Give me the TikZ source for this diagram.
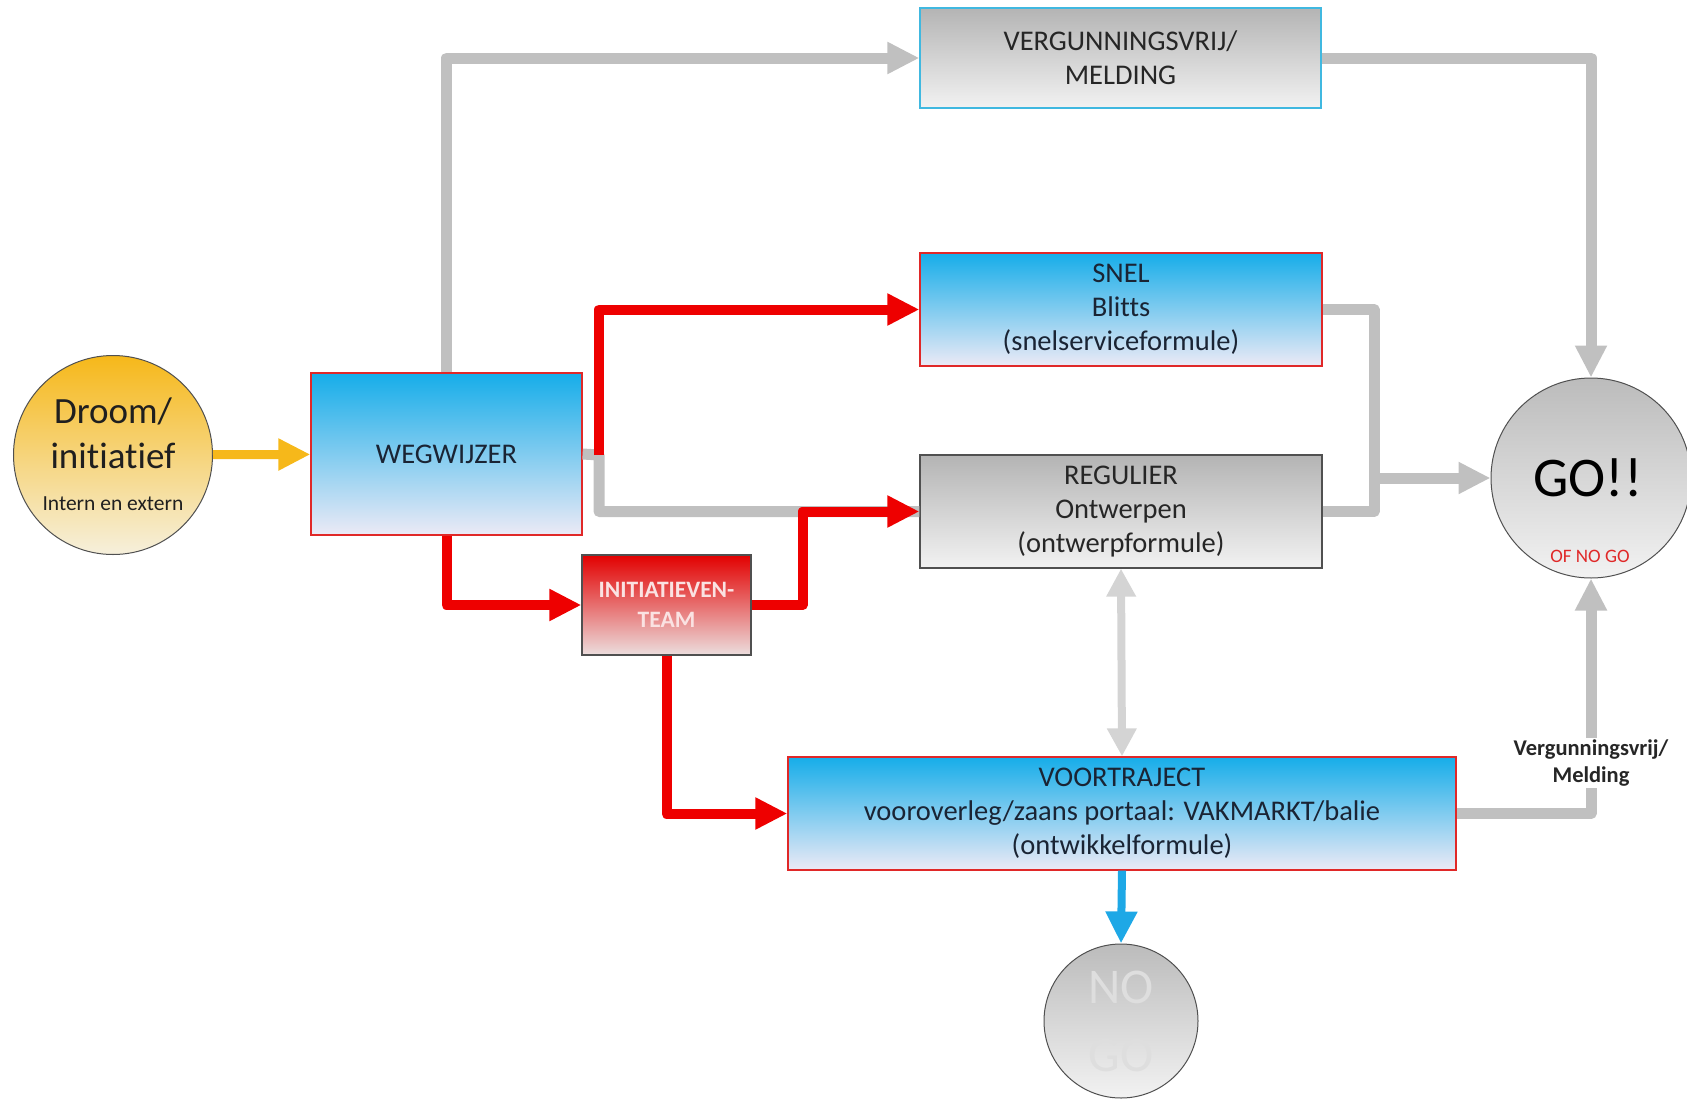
\documentclass[tikz,border=0pt]{standalone}
\usepackage{fontspec}
\setmainfont{Carlito}[Ligatures=NoCommon]
\usetikzlibrary{arrows.meta}
\definecolor{skyblue}{HTML}{16ADE9}
\definecolor{paleblue}{HTML}{ECEAF6}
\definecolor{boxred}{HTML}{E02828}
\definecolor{darkgrey}{HTML}{505050}
\definecolor{midgrey}{HTML}{B4B4B4}
\definecolor{palegrey}{HTML}{F2F2F2}
\definecolor{linegrey}{HTML}{C0C0C0}
\definecolor{lightline}{HTML}{D4D4D4}
\definecolor{flowred}{HTML}{EE0000}
\definecolor{amber}{HTML}{F6B81A}
\definecolor{cream}{HTML}{F6F0DC}
\definecolor{arrowblue}{HTML}{1EA8E6}
\definecolor{frameblue}{HTML}{40B8E0}
\definecolor{navy}{HTML}{1A2434}
\begin{document}
\begin{tikzpicture}[x=1pt,y=-1pt,
    boxtext/.style={align=center,font=\fontsize{28.5}{34}\selectfont},
    bluebox/.style={boxtext,draw=boxred,line width=1.2pt,top color=skyblue,bottom color=paleblue,text=navy,minimum height=113pt},
    greybox/.style={boxtext,draw=darkgrey,line width=1.2pt,top color=midgrey,bottom color=palegrey,text=black!85,minimum height=113pt},
    blob/.style={circle,draw=darkgrey,line width=1pt,align=center,inner sep=0pt},
    tip/.style={-{Triangle[length=32pt,width=30pt]}},
    greyflow/.style={tip,draw=linegrey,line width=11pt,line join=round},
    redflow/.style={tip,draw=flowred,line width=10pt,line join=round}]
\useasboundingbox (0,0) rectangle (1687,1100);

% Boxes %
\node[blob,top color=amber,bottom color=cream,minimum size=199pt] (droom) at (113,455) {};
\node[font=\fontsize{37}{45}\selectfont,align=center,text=black!88] (droomtxt) at (113,433) {Droom/\\initiatief};
\node[font=\fontsize{21.5}{24}\selectfont,text=black!88] (droomsub) at (113,504) {Intern en extern};
\node[bluebox,minimum width=271pt,minimum height=162pt] (wegwijzer) at (446.5,454) {WEGWIJZER};
\node[draw=darkgrey,line width=1.2pt,top color=flowred!95!black,bottom color={rgb,255:red,236;green,222;blue,222},minimum width=169pt,minimum height=100pt,align=center,text={rgb,255:red,250;green,226;blue,226},font=\bfseries\fontsize{23.5}{30}\selectfont] (team) at (666.5,605) {INITIATIEVEN-\\TEAM};
\node[greybox,draw=frameblue,minimum width=401pt,minimum height=100pt] (vrij) at (1120.5,58) {VERGUNNINGSVRIJ/\\MELDING};
\node[bluebox,minimum width=402pt] (snel) at (1121,309.5) {SNEL\\Blitts\\(snelserviceformule)};
\node[greybox,minimum width=402pt] (regulier) at (1121,511.5) {REGULIER\\Ontwerpen\\(ontwerpformule)};
\node[bluebox,minimum width=668pt] (voortraject) at (1122,813.5) {VOORTRAJECT\\vooroverleg/zaans portaal: VAKMARKT/balie\\(ontwikkelformule)};
\node[blob,top color=midgrey!90,bottom color=palegrey,minimum size=200pt] (go) at (1591,478) {};
\node[font=\fontsize{56}{60}\selectfont] (gotxt) at (1588,478) {GO!!};
\node[font=\fontsize{19}{22}\selectfont,text=boxred] (nogosub) at (1590,556) {OF NO GO};
\node[blob,top color=midgrey!90,bottom color=palegrey,minimum size=154pt,text={rgb,255:red,222;green,222;blue,222},font=\fontsize{50}{68}\selectfont] (nogo) at (1121,1021) {NO\\GO};

% Connectors %
\coordinate (split) at (599,455);
\coordinate (merge) at (1374,478);
\draw[tip,draw=amber,line width=9pt] (droom) -- (wegwijzer);
\draw[greyflow] (wegwijzer.north) |- (vrij.west);
\draw[greyflow] (vrij.east) -| (go.north);
\draw[greyflow,-] (wegwijzer.east) -- (split) |- (regulier.west);
\draw[greyflow,-] (snel.east) -| (merge);
\draw[greyflow] (regulier.east) -| (merge) -- (go.west);
\draw[greyflow] (voortraject.east) -| (go.south);
\draw[{Triangle[length=28pt,width=28pt]}-{Triangle[length=28pt,width=28pt]},draw=lightline,line width=8pt] (regulier.south) -- (voortraject.north);
\draw[redflow] (split) |- (snel.west);
\draw[redflow] (wegwijzer.south) |- (team.west);
\draw[redflow] (team.east) -- ++(51,0) |- (regulier.west);
\draw[redflow] (team.south) |- (voortraject.west);
\draw[tip,draw=arrowblue,line width=8pt] (voortraject.south) -- (nogo.north);
\node[fill=white,align=center,font=\bfseries\fontsize{22.5}{27}\selectfont,inner sep=2pt,text=black!85] (vrijlabel) at (1591,763) {Vergunningsvrij/\\Melding};
\end{tikzpicture}
\end{document}
